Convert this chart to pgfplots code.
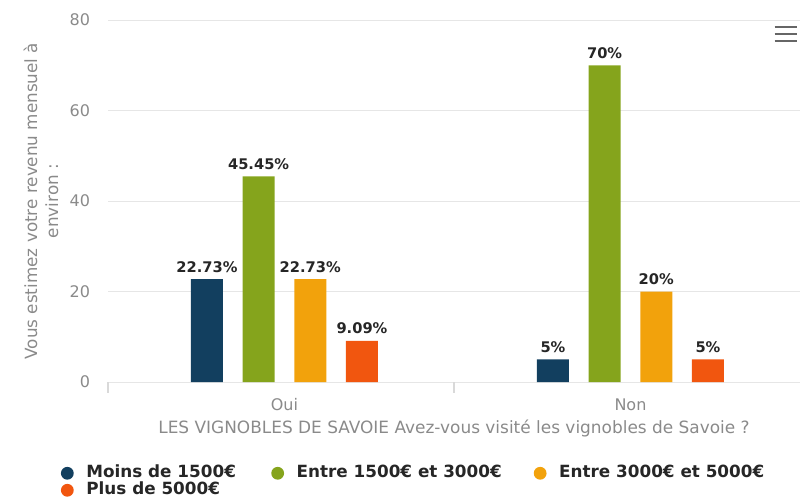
\documentclass[border=0pt]{standalone}
\usepackage{pgfplots}
\pgfplotsset{compat=1.18}
\usepackage{fontspec}
\setmainfont{DejaVu Sans}

\definecolor{cBlue}{HTML}{123F5F}
\definecolor{cGreen}{HTML}{85A41C}
\definecolor{cOrange}{HTML}{F2A20C}
\definecolor{cRed}{HTML}{F1560F}
\definecolor{txtGray}{HTML}{8A8A8A}
\definecolor{gridGray}{HTML}{E6E6E6}

\begin{document}
\begin{tikzpicture}
% page = 800x501 px, 1px = 0.75pt, axis box origin at (108,382) px
\useasboundingbox (-81pt,-89.25pt) rectangle (519pt,286.5pt);
\begin{axis}[
  scale only axis, width=519pt, height=271.5pt,
  at={(0pt,0pt)}, anchor=south west,
  xmin=-0.51, xmax=1.49, ymin=0, ymax=80,
  ytick={0,20,40,60,80},
  xtick={0,1}, xticklabels={Oui,Non},
  xtick pos=bottom,
  xtick style={draw=none}, ytick style={draw=none},
  extra x ticks={-0.51,0.49}, extra x tick labels={},
  extra x tick style={xtick style={draw=black!15, line width=0.8pt},
    major tick length=8pt, tick align=outside},
  axis line style={draw=none},
  ymajorgrids, grid style={gridGray, line width=0.75pt},
  ybar=14.75pt, bar width=24pt,
  /pgf/number format/assume math mode=true,
  tick label style={font=\fontsize{12}{14}\selectfont, text=txtGray},
  yticklabel style={xshift=-10pt},
  xticklabel style={yshift=-4.5pt},
  ylabel={Vous estimez votre revenu mensuel à\\environ :},
  ylabel style={align=center, font=\fontsize{12.6}{15.75}\selectfont, text=txtGray,
    at={(axis description cs:0,0.5)}, anchor=center, yshift=50.25pt},
  xlabel={LES VIGNOBLES DE SAVOIE Avez-vous visité les vignobles de Savoie ?},
  xlabel style={font=\fontsize{12.7}{14}\selectfont, text=txtGray,
    at={(axis description cs:0.5,0)}, anchor=center, yshift=-34.5pt},
  nodes near coords, point meta=explicit symbolic,
  nodes near coords style={font=\bfseries\fontsize{11}{13}\selectfont,
    text=black!85, yshift=1.5pt},
  legend columns=3,
  legend cell align=left,
  legend image code/.code={\fill[#1] (0pt,0pt) circle (4.8pt);},
  legend style={draw=none, fill=none, inner sep=0pt,
    at={(axis description cs:0,0)}, anchor=north west,
    xshift=-35.5pt, yshift=-62.5pt,
    font=\bfseries\fontsize{12.6}{14}\selectfont, text=black!85,
    nodes={inner sep=0pt, text height=9pt, text depth=2.5pt}, row sep=1.25pt,
    /tikz/column 2/.style={column sep=26.5pt},
    /tikz/column 4/.style={column sep=24pt},
    /tikz/column 1/.style={column sep=9.5pt},
    /tikz/column 3/.style={column sep=9.5pt},
    /tikz/column 5/.style={column sep=9.5pt}},
]
\addplot[fill=cBlue, draw=none] coordinates {(0,22.73) [22.73\%] (1,5) [5\%]};
\addplot[fill=cGreen, draw=none] coordinates {(0,45.45) [45.45\%] (1,70) [70\%]};
\addplot[fill=cOrange, draw=none] coordinates {(0,22.73) [22.73\%] (1,20) [20\%]};
\addplot[fill=cRed, draw=none] coordinates {(0,9.09) [9.09\%] (1,5) [5\%]};
\legend{Moins de 1500€, Entre 1500€ et 3000€, Entre 3000€ et 5000€, Plus de 5000€}
\end{axis}
% export menu icon
\foreach \yy in {266,261,256}
  \draw[black!60, line width=1.6pt] (500pt,\yy pt) -- (516.5pt,\yy pt);
\end{tikzpicture}
\end{document}
